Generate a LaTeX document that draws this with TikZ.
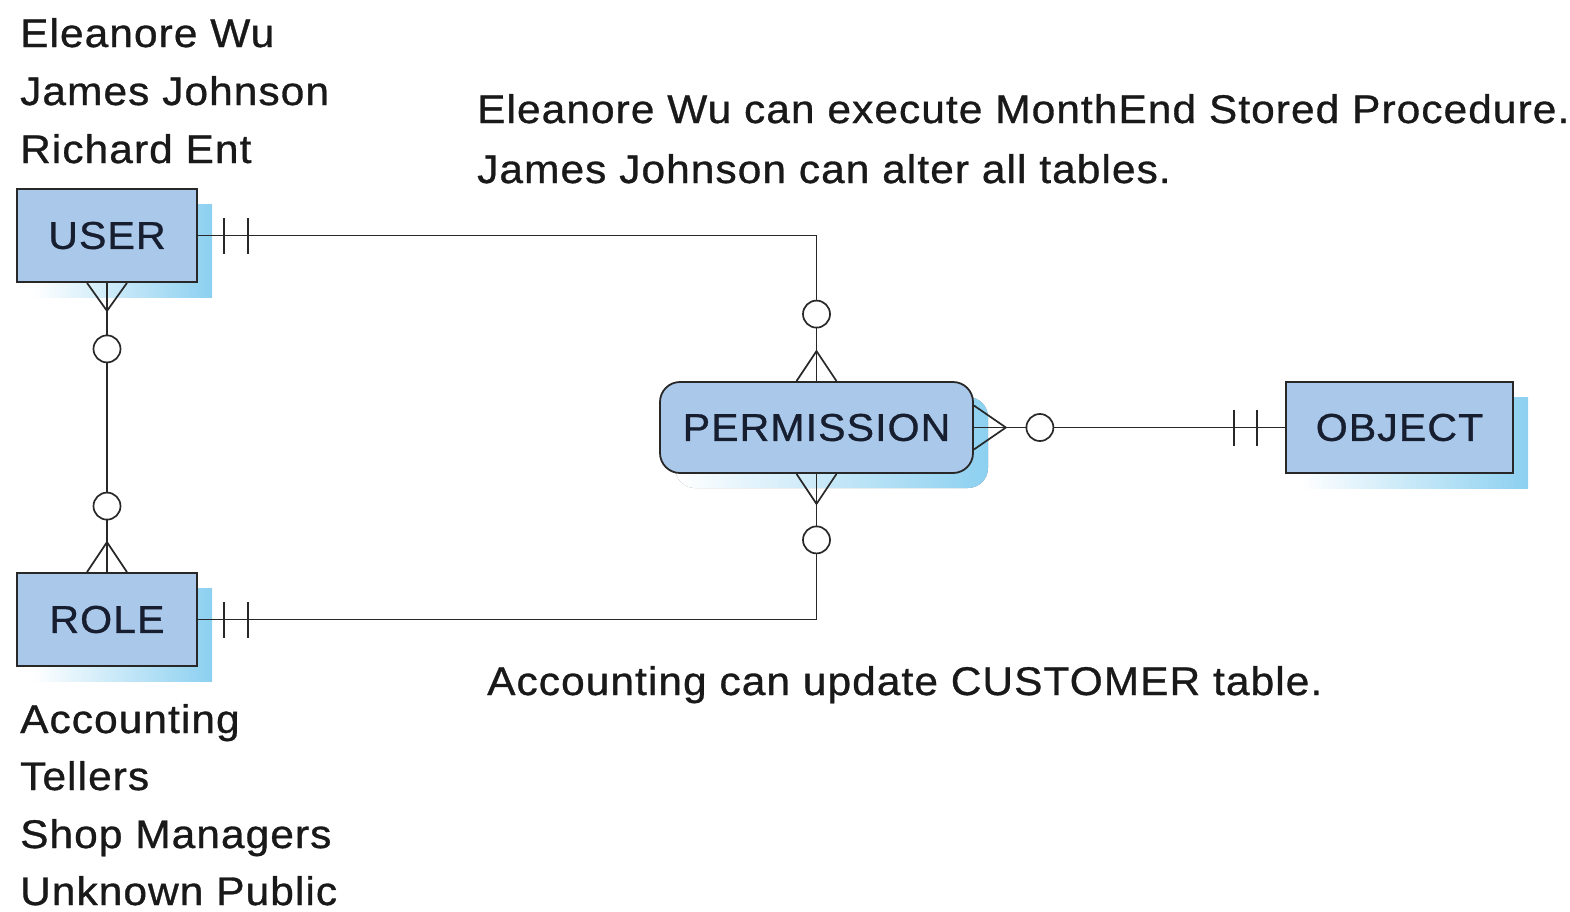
\documentclass[tikz,border=0pt]{standalone}
\usepackage{fontspec}
\setmainfont{Liberation Sans}[LetterSpace=2.7,FakeStretch=1.06,FakeBold=0.8]
\usetikzlibrary{calc,shadows}
\definecolor{boxfill}{RGB}{170,200,234}
\definecolor{shadowc}{RGB}{140,208,240}
\definecolor{linec}{RGB}{40,40,40}
\definecolor{txtc}{RGB}{25,25,25}
\definecolor{boxtxt}{RGB}{22,30,48}
\begin{document}
\begin{tikzpicture}[x=1pt,y=-1pt,
  lbl/.style={anchor=base west,inner sep=0pt,text=txtc,font=\fontsize{40}{46}\selectfont},
  entity/.style={draw=linec,line width=1.8pt,fill=boxfill,text=boxtxt,inner sep=0pt,
    font=\fontsize{38.8}{46}\selectfont,
    drop shadow={shadow xshift=15pt,shadow yshift=-15pt,left color=white,right color=shadowc,opacity=1,draw=none}},
  conn/.style={draw=linec,line width=1.7pt},
  zero/.style={draw=linec,line width=1.7pt,fill=white}]
\useasboundingbox (0,0) rectangle (1570,911);
% entities
\node[entity,minimum width=180pt,minimum height=93pt] (user) at (107,235.5) {USER};
\node[entity,minimum width=180pt,minimum height=93pt] (role) at (107,619.5) {ROLE};
\node[entity,rounded corners=20pt,minimum width=313pt,minimum height=91pt] (perm) at (816.5,427.5) {PERMISSION};
\node[entity,minimum width=227pt,minimum height=91pt] (obj) at (1399.5,427.5) {OBJECT};
% texts
\node[lbl] (t1) at (20,47) {Eleanore Wu};
\node[lbl] (t2) at (20,105) {James Johnson};
\node[lbl] (t3) at (20,163) {Richard Ent};
\node[lbl] (t4) at (20,733) {Accounting};
\node[lbl] (t5) at (20,790) {Tellers};
\node[lbl] (t6) at (20,848) {Shop Managers};
\node[lbl] (t7) at (20,905) {Unknown Public};
\node[lbl] (r1) at (477,123) {Eleanore Wu can execute MonthEnd Stored Procedure.};
\node[lbl] (r2) at (477,183) {James Johnson can alter all tables.};
\node[lbl] (r3) at (487,695) {Accounting can update CUSTOMER table.};
% connectors
\draw[conn] (user.east) -| (perm.north);
\draw[conn] (role.east) -| (perm.south);
\draw[conn] (user.south) -- (role.north);
\draw[conn] (perm.east) -- (obj.west);
% USER one-and-only-one
\draw[conn] ($(user.east)+(26,-18)$) -- ($(user.east)+(26,18)$);
\draw[conn] ($(user.east)+(50,-18)$) -- ($(user.east)+(50,18)$);
% ROLE one-and-only-one
\draw[conn] ($(role.east)+(26,-18)$) -- ($(role.east)+(26,18)$);
\draw[conn] ($(role.east)+(50,-18)$) -- ($(role.east)+(50,18)$);
% OBJECT one-and-only-one
\draw[conn] ($(obj.west)+(-28,-18)$) -- ($(obj.west)+(-28,18)$);
\draw[conn] ($(obj.west)+(-51,-18)$) -- ($(obj.west)+(-51,18)$);
% USER zero-or-many (bottom)
\draw[conn] ($(user.south)+(-20,0)$) -- ($(user.south)+(0,28)$) -- ($(user.south)+(20,0)$);
\draw[zero] ($(user.south)+(0,66)$) circle[radius=13.5];
% ROLE zero-or-many (top)
\draw[conn] ($(role.north)+(-20,0)$) -- ($(role.north)+(0,-30)$) -- ($(role.north)+(20,0)$);
\draw[zero] ($(role.north)+(0,-66)$) circle[radius=13.5];
% PERMISSION top
\draw[conn] ($(perm.north)+(-20,0)$) -- ($(perm.north)+(0,-30)$) -- ($(perm.north)+(20,0)$);
\draw[zero] ($(perm.north)+(0,-67)$) circle[radius=13.5];
% PERMISSION bottom
\draw[conn] ($(perm.south)+(-20,0)$) -- ($(perm.south)+(0,30)$) -- ($(perm.south)+(20,0)$);
\draw[zero] ($(perm.south)+(0,66)$) circle[radius=13.5];
% PERMISSION right
\draw[conn] ($(perm.east)+(0,-22)$) -- ($(perm.east)+(32,0)$) -- ($(perm.east)+(0,22)$);
\draw[zero] ($(perm.east)+(66,0)$) circle[radius=13.5];
\end{tikzpicture}
\end{document}
